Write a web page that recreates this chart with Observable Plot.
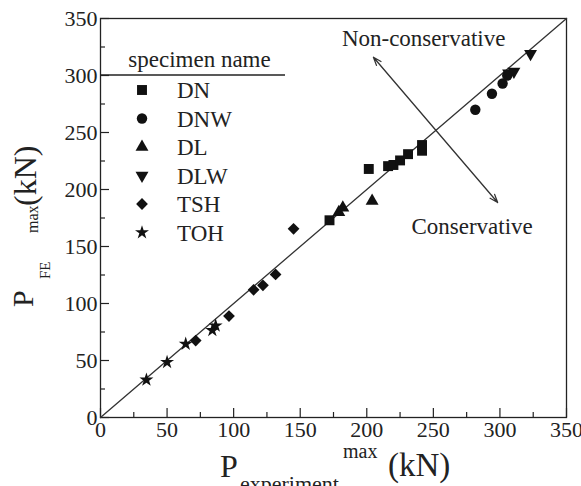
<!DOCTYPE html>
<html><head><meta charset="utf-8">
<script src="https://cdn.jsdelivr.net/npm/d3@7"></script>
<script src="https://cdn.jsdelivr.net/npm/@observablehq/plot@0.6"></script>
<style>
body{margin:0;background:#fff}
#wrap{position:relative;width:581px;height:486px;overflow:hidden}
#wrap svg{display:block}
#xtitle{position:absolute;left:0;top:0;width:581px;height:486px;pointer-events:none;
  font-family:"Liberation Serif",serif;color:#222;line-height:1}
#xtitle span{position:absolute;white-space:nowrap}
</style>
</head><body><div id="wrap"><div id="chart"></div><div id="xtitle"></div></div>
<script>
// ---- data ----
const specimens = ["DN", "DNW", "DL", "DLW", "TSH", "TOH"];
const dnExp  = [172, 201.5, 216, 220, 225, 231, 241.5, 241.5];
const dnFE   = [173, 218, 220.5, 221.5, 225.5, 231, 234, 239];
const dnwExp = [281.5, 294, 302, 305.5];
const dnwFE  = [270, 284, 293, 300];
const dlExp  = [179, 182, 204];
const dlFE   = [180, 184, 190];
const dlwExp = [306.5, 310.5, 323];
const dlwFE  = [302, 303.5, 319];
const tshExp = [71.5, 96.5, 115, 122, 131.5, 145];
const tshFE  = [67.5, 89, 112, 116, 125.5, 165.5];
const tohExp = [34.5, 50, 64, 84, 86.5];
const tohFE  = [33, 48.5, 64.5, 76.5, 80.5];
const majorTicks = [0, 50, 100, 150, 200, 250, 300, 350];
const minorTicks = [25, 75, 125, 175, 225, 275, 325];
const diagonal = [0, 350];

// ---- layout ----
const W = 581, H = 486;
const mL = 100, mR = 15, mT = 18, mB = 69;
const frameW = W - mL - mR, frameH = H - mT - mB;
const ink = "#222";
const serif = "Liberation Serif";

const triangleDown = {
  draw(context, size) {
    const y = -Math.sqrt(size / (Math.sqrt(3) * 3));
    context.moveTo(0, -y * 2);
    context.lineTo(-Math.sqrt(3) * y, y);
    context.lineTo(Math.sqrt(3) * y, y);
    context.closePath();
  }
};
const symbolOf = {DN: d3.symbolSquare, DNW: d3.symbolCircle, DL: d3.symbolTriangle,
                  DLW: triangleDown, TSH: d3.symbolDiamond2, TOH: d3.symbolStar};
const radiusOf = {DN: 5.6, DNW: 5.2, DL: 4.8, DLW: 4.8, TSH: 5.3, TOH: 4.4};
const xsOf = {DN: dnExp, DNW: dnwExp, DL: dlExp, DLW: dlwExp, TSH: tshExp, TOH: tohExp};
const ysOf = {DN: dnFE, DNW: dnwFE, DL: dlFE, DLW: dlwFE, TSH: tshFE, TOH: tohFE};

const rows = specimens.flatMap(s => xsOf[s].map((x, j) => ({specimen: s, exp: x, fe: ysOf[s][j]})));

const center = [251.7, 252.2];
const arrows = [
  {x1: center[0], y1: center[1], x2: 205, y2: 316},
  {x1: center[0], y1: center[1], x2: 298.3, y2: 188.6}
];
const notes = [
  {t: "Non-conservative", x: 242.7, y: 332.5},
  {t: "Conservative", x: 279.1, y: 167.4}
];

const plot = Plot.plot({
  width: W, height: H,
  marginLeft: mL, marginRight: mR, marginTop: mT, marginBottom: mB,
  x: {domain: [0, 350]},
  y: {domain: [0, 350]},
  style: {fontFamily: serif, color: ink, background: "#fff"},
  marks: [
    Plot.tickX(majorTicks, {x: d => d, insetTop: frameH - 9, stroke: ink, strokeWidth: 1.2}),
    Plot.tickX(minorTicks, {x: d => d, insetTop: frameH - 5, stroke: ink, strokeWidth: 1.2}),
    Plot.tickY(majorTicks, {y: d => d, insetRight: frameW - 9, stroke: ink, strokeWidth: 1.2}),
    Plot.tickY(minorTicks, {y: d => d, insetRight: frameW - 5, stroke: ink, strokeWidth: 1.2}),
    Plot.axisX({ticks: majorTicks, tickSize: 0, tickPadding: 4, fontSize: 22, label: null}),
    Plot.axisY({ticks: majorTicks, tickSize: 0, tickPadding: 3, fontSize: 22, label: null}),
    Plot.frame({stroke: ink, strokeWidth: 1.3}),
    Plot.line(diagonal, {x: d => d, y: d => d, stroke: "#333", strokeWidth: 1.3}),
    Plot.arrow(arrows, {x1: "x1", y1: "y1", x2: "x2", y2: "y2", stroke: "#333",
                        strokeWidth: 1.3, headLength: 10, headAngle: 40}),
    Plot.text(notes, {x: "x", y: "y", text: "t", fontSize: 23, fill: ink}),
    ...specimens.map(s => Plot.dot(rows.filter(d => d.specimen === s), {
      x: "exp", y: "fe", symbol: symbolOf[s], r: radiusOf[s], fill: "#111", stroke: "none"
    }))
  ]
});
document.getElementById("chart").appendChild(plot);

// ---- legend and y-axis title (SVG) ----
const svg = d3.select(plot);
const g = svg.append("g").attr("fill", ink).attr("text-anchor", "start");
g.append("text").attr("x", 199.5).attr("y", 67).attr("text-anchor", "middle")
  .attr("font-size", 23).text("specimen name");
g.append("line").attr("x1", mL).attr("x2", 285).attr("y1", 75).attr("y2", 75)
  .attr("stroke", ink).attr("stroke-width", 1.3);
specimens.forEach((s, i) => {
  const y = 90 + i * 28.5;
  g.append("path")
    .attr("d", d3.symbol(symbolOf[s], Math.PI * radiusOf[s] ** 2)())
    .attr("transform", `translate(142,${y})`).attr("fill", "#111");
  g.append("text").attr("x", 177).attr("y", y).attr("dy", "0.35em")
    .attr("font-size", 23).text(s);
});

const rot = (x, y, size, t) => g.append("text")
  .attr("transform", `translate(${x},${y}) rotate(-90)`).attr("font-size", size).text(t);
rot(33, 307, 30, "P");
rot(50, 279, 15, "FE");
rot(38, 233, 16, "max");
rot(36, 206, 32, "(kN)");
svg.selectAll("text").attr("font-family", serif);

// ---- x-axis title (HTML, below the plot area) ----
const xt = d3.select("#xtitle");
const piece = (left, baseline, size, t) => xt.append("span")
  .style("left", left + "px").style("top", (baseline - 0.8375 * size) + "px")
  .style("font-size", size + "px").text(t);
piece(220, 477, 32, "P");
piece(240, 491, 22, "experiment");
piece(343, 458, 20, "max");
piece(388, 477, 33, "(kN)");
</script>
</body></html>
